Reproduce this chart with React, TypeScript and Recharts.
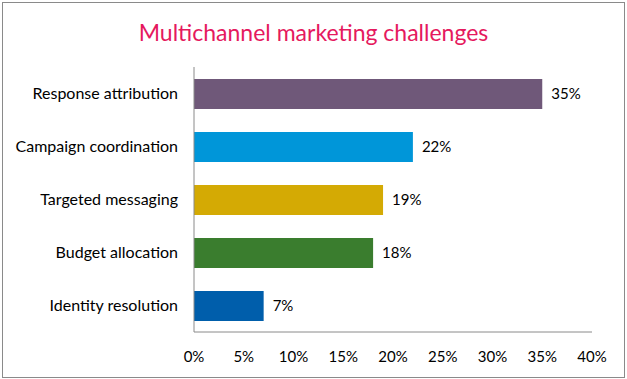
import React from "react";
import { BarChart, Bar, XAxis, YAxis, Cell, LabelList } from "recharts";

const categories = [
  "Response attribution",
  "Campaign coordination",
  "Targeted messaging",
  "Budget allocation",
  "Identity resolution",
];
const values = [35, 22, 19, 18, 7];
const colors = ["#6f5879", "#0096d9", "#d4aa04", "#3a7d2e", "#005eab"];
const xTicks = [0, 5, 10, 15, 20, 25, 30, 35, 40];
const title = "Multichannel marketing challenges";

const data = categories.map((name, i) => ({ name, value: values[i] }));

const FONT = "Lato, 'Open Sans', sans-serif";

export default function App() {
  return (
    <div style={{ position: "absolute", left: 0, top: 0, width: 627, height: 379, background: "#fff", fontFamily: FONT }}>
      <div
        style={{
          position: "absolute",
          left: 2,
          top: 2,
          width: 623,
          height: 376,
          border: "1px solid #8a8a8a",
          boxSizing: "border-box",
        }}
      />
      <div
        style={{
          position: "absolute",
          left: 0,
          top: 17,
          width: 627,
          textAlign: "center",
          fontSize: 23,
          color: "#e5195e",
          lineHeight: "30px",
        }}
      >
        {title}
      </div>
      <div style={{ position: "absolute", left: 0, top: 0 }}>
        <BarChart
          width={627}
          height={379}
          data={data}
          layout="vertical"
          margin={{ top: 67, right: 35, bottom: 0, left: 0 }}
          barSize={30}
        >
          <XAxis
            type="number"
            domain={[0, 40]}
            ticks={xTicks}
            tickFormatter={(v: number) => `${v}%`}
            axisLine={{ stroke: "#8a8a8a" }}
            tickLine={false}
            tickSize={0}
            tickMargin={19}
            height={47}
            tick={{ fill: "#000", fontSize: 15, fontFamily: FONT }}
            interval={0}
          />
          <YAxis
            type="category"
            dataKey="name"
            width={194}
            axisLine={{ stroke: "#8a8a8a" }}
            tickLine={false}
            tickSize={0}
            tickMargin={16}
            tick={{ fill: "#000", fontSize: 16, fontFamily: FONT }}
            interval={0}
          />
          <Bar dataKey="value" isAnimationActive={false}>
            {data.map((d, i) => (
              <Cell key={d.name} fill={colors[i]} />
            ))}
            <LabelList
              dataKey="value"
              position="right"
              offset={9}
              formatter={(v: number) => `${v}%`}
              style={{ fill: "#000", fontSize: 15, fontFamily: FONT }}
            />
          </Bar>
        </BarChart>
      </div>
    </div>
  );
}
